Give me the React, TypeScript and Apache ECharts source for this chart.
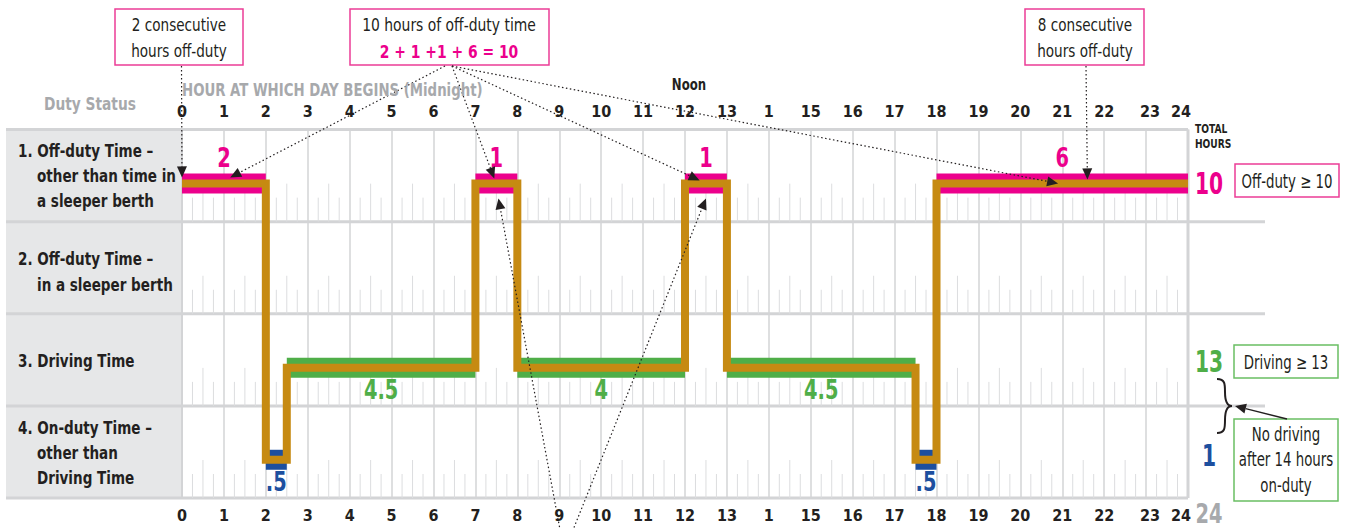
import React, { useEffect, useRef } from "react";
import * as echarts from "echarts";

// ---------- data ----------
const hourTickLabels = ["0", "1", "2", "3", "4", "5", "6", "7", "8", "9", "10", "11", "12", "13", "1", "15", "16", "17", "18", "19", "20", "21", "22", "23", "24"];
const dutyStatusRows = [
  ["1. Off-duty Time –", "other than time in", "a sleeper berth"],
  ["2. Off-duty Time –", "in a sleeper berth"],
  ["3. Driving Time"],
  ["4. On-duty Time –", "other than", "Driving Time"],
];
const segmentStarts = [0, 2, 2.5, 7, 8, 12, 13, 17.5, 18];
const segmentEnds = [2, 2.5, 7, 8, 12, 13, 17.5, 18, 24];
const segmentRows = [0, 3, 2, 0, 2, 0, 2, 3, 0];
const rowColors = ["#ec008c", "#ec008c", "#4fae48", "#1d4f9f"];
const offDutyArrowHours = [1.15, 7.45, 12.35, 20.9];
const bottomArrowHours = [7.55, 12.5];

// ---------- style constants ----------
const F = '"DejaVu Sans Condensed", "Liberation Sans Narrow", sans-serif';
const GOLD = "#c68a12";
const LINE_FRAC = 0.585;
const GRID_GRAY = "#d3d4d6";
const TEXT = "#231f20";

const fmtHours = (v: number) => (v < 1 ? String(v).replace(/^0/, "") : String(v));

function buildOption() {
  const series: any[] = [];
  // quarter-hour ticks
  const ticks: number[][] = [];
  for (let r = 0; r < 4; r++) {
    for (let q = 1; q < 96; q++) {
      if (q % 4 === 0) continue;
      ticks.push([q / 4, r, q % 2 === 0 ? 38 : 24]);
    }
  }
  series.push({
    type: "custom",
    z: 2,
    silent: true,
    encode: { x: 0, y: 1 },
    data: ticks,
    renderItem: (params: any, api: any) => {
      const p = api.coord([api.value(0), api.value(1) + 1]);
      return {
        type: "line",
        shape: { x1: p[0], y1: p[1], x2: p[0], y2: p[1] - api.value(2) },
        style: { stroke: "#dcdddf", lineWidth: 1 },
      };
    },
  });
  // coloured bands
  segmentStarts.forEach((s, i) => {
    const y = segmentRows[i] + LINE_FRAC;
    series.push({
      type: "line",
      z: 3,
      silent: true,
      symbol: "none",
      lineStyle: { width: 20, color: rowColors[segmentRows[i]], cap: "butt", opacity: 1 },
      data: [[s, y], [segmentEnds[i], y]],
    });
  });
  // gold step line
  const gold: number[][] = [];
  segmentStarts.forEach((s, i) => {
    const y = segmentRows[i] + LINE_FRAC;
    gold.push([s, y], [segmentEnds[i], y]);
  });
  series.push({
    type: "line",
    z: 4,
    silent: true,
    symbol: "none",
    lineStyle: { width: 8, color: GOLD, join: "miter", cap: "butt" },
    data: gold,
  });
  // segment duration labels
  series.push({
    type: "custom",
    z: 5,
    silent: true,
    encode: { x: 0, y: 1 },
    data: segmentStarts.map((s, i) => {
      const r = segmentRows[i];
      const y = r === 0 ? r + LINE_FRAC - 0.28 : r + LINE_FRAC + 0.235;
      return [(s + segmentEnds[i]) / 2, y, r];
    }),
    renderItem: (params: any, api: any) => {
      const i = params.dataIndex;
      const p = api.coord([api.value(0), api.value(1)]);
      return {
        type: "text",
        x: p[0],
        y: p[1],
        scaleX: 0.8,
        style: {
          text: fmtHours(segmentEnds[i] - segmentStarts[i]),
          fill: rowColors[api.value(2)],
          font: `bold 27px ${F}`,
          textAlign: "center",
          textVerticalAlign: "middle",
        },
      };
    },
  });

  const axisLabel = (margin: number) => ({
    show: true,
    margin,
    color: TEXT,
    fontFamily: F,
    fontWeight: "bold",
    fontSize: 16,
    formatter: (v: number) => {
      const i = Math.round(v);
      const s = hourTickLabels[i];
      if (i === 23) return `{a|${s}}`;
      if (i === 24) return `{b|${s}}`;
      return s;
    },
    rich: {
      a: { padding: [0, 0, 0, 8], fontFamily: F, fontWeight: "bold", fontSize: 16, color: TEXT },
      b: { padding: [0, 14, 0, 0], fontFamily: F, fontWeight: "bold", fontSize: 16, color: TEXT },
    },
  });

  return {
    animation: false,
    grid: { left: 182, right: 158, top: 129.5, bottom: 31, containLabel: false },
    xAxis: [
      {
        type: "value", position: "top", min: 0, max: 24, interval: 1,
        axisLine: { show: false }, axisTick: { show: false },
        splitLine: { show: true, lineStyle: { color: GRID_GRAY, width: 1.5 } },
        axisLabel: axisLabel(10),
      },
      {
        type: "value", position: "bottom", min: 0, max: 24, interval: 1,
        axisLine: { show: false }, axisTick: { show: false },
        splitLine: { show: false },
        axisLabel: axisLabel(9),
      },
    ],
    yAxis: {
      type: "value", min: 0, max: 4, interval: 1, inverse: true,
      axisLine: { show: false }, axisTick: { show: false }, axisLabel: { show: false },
      splitLine: { show: false },
    },
    series,
  };
}

function arrow(x1: number, y1: number, x2: number, y2: number, dashed: boolean) {
  const dx = x2 - x1, dy = y2 - y1;
  const L = Math.hypot(dx, dy);
  const ux = dx / L, uy = dy / L;
  const len = 11, hw = 5;
  const bx = x2 - ux * len, by = y2 - uy * len;
  return [
    {
      type: "line", z: 20, silent: true,
      shape: { x1, y1, x2: bx, y2: by },
      style: { stroke: TEXT, lineWidth: dashed ? 1.2 : 1.3, lineDash: dashed ? [1.5, 2.5] : null },
    },
    {
      type: "polygon", z: 20, silent: true,
      shape: { points: [[x2, y2], [bx - uy * hw, by + ux * hw], [bx + uy * hw, by - ux * hw]] },
      style: { fill: TEXT },
    },
  ];
}

function txt(text: string, x: number, y: number, o: any = {}) {
  return {
    type: "text", z: 21, silent: true,
    x, y, scaleX: o.sx || 1,
    style: {
      text, x: 0, y: 0,
      fill: o.fill || TEXT,
      font: `${o.weight || "normal"} ${o.size || 17}px ${F}`,
      textAlign: o.align || "left",
      textVerticalAlign: "middle",
    },
  };
}

function box(x: number, y: number, w: number, h: number, stroke: string) {
  return {
    type: "rect", z: 19, silent: true,
    shape: { x, y, width: w, height: h },
    style: { fill: "#fff", stroke, lineWidth: 1.5 },
  };
}

function bez(a: number[], c1: number[], c2: number[], b: number[]) {
  return {
    type: "bezierCurve", z: 20, silent: true,
    shape: { x1: a[0], y1: a[1], cpx1: c1[0], cpy1: c1[1], cpx2: c2[0], cpy2: c2[1], x2: b[0], y2: b[1] },
    style: { stroke: TEXT, lineWidth: 2, fill: null },
  };
}

function buildGraphic(px: (x: number, y: number) => number[]) {
  const g: any[] = [];
  const [xL, yT] = px(0, 0);
  const [xR, yB] = px(24, 4);
  // left panel
  g.push({ type: "rect", z: 1, silent: true, shape: { x: 6, y: yT, width: xL - 6, height: yB - yT }, style: { fill: "#e6e7e8" } });
  // horizontal rules
  for (let r = 0; r <= 4; r++) {
    const y = px(0, r)[1];
    const x2 = r === 0 || r === 4 ? xR : 1265;
    g.push({ type: "line", z: 1, silent: true, shape: { x1: 6, y1: y, x2, y2: y }, style: { stroke: GRID_GRAY, lineWidth: 3 } });
  }
  g.push({ type: "line", z: 1, silent: true, shape: { x1: xL, y1: yT, x2: xL, y2: yB }, style: { stroke: GRID_GRAY, lineWidth: 2 } });
  g.push({ type: "line", z: 1, silent: true, shape: { x1: xR, y1: yT, x2: xR, y2: yB }, style: { stroke: GRID_GRAY, lineWidth: 3 } });

  // row labels
  dutyStatusRows.forEach((lines, r) => {
    const yc = (px(0, r)[1] + px(0, r + 1)[1]) / 2 + 1 + (r === 1 ? 3 : 0);
    const step = r === 1 ? 26 : 25;
    lines.forEach((line, i) => {
      const y = yc + (i - (lines.length - 1) / 2) * step;
      g.push(txt(line, i === 0 ? 18 : 37, y, { weight: "bold", size: 17.5, sx: 0.86 }));
    });
  });

  // headers
  g.push(txt("Duty Status", 90, 104, { weight: "bold", size: 17, fill: "#a7a9ac", align: "center", sx: 0.9 }));
  g.push(txt("HOUR AT WHICH DAY BEGINS (Midnight)", xL, 90, { weight: "bold", size: 17, fill: "#a7a9ac", sx: 0.87 }));
  g.push(txt("Noon", px(12, 0)[0] + 4, 85, { weight: "bold", size: 15, align: "center", sx: 0.87 }));
  g.push(txt("TOTAL", xR + 7, 129, { weight: "bold", size: 13, sx: 0.78 }));
  g.push(txt("HOURS", xR + 7, 144, { weight: "bold", size: 13, sx: 0.78 }));

  // totals
  const totals = [0, 0, 0, 0];
  segmentStarts.forEach((s, i) => (totals[segmentRows[i]] += segmentEnds[i] - s));
  const totalX = xR + 21;
  g.push(txt(String(totals[0]), totalX, px(24, LINE_FRAC)[1], { weight: "bold", size: 30, fill: rowColors[0], align: "center", sx: 0.75 }));
  g.push(txt(String(totals[2]), totalX, px(24, 2 + LINE_FRAC)[1] - 6, { weight: "bold", size: 30, fill: rowColors[2], align: "center", sx: 0.75 }));
  g.push(txt(String(totals[3]), totalX, px(24, 3 + LINE_FRAC)[1] - 5, { weight: "bold", size: 30, fill: rowColors[3], align: "center", sx: 0.75 }));
  g.push(txt(String(totals.reduce((a, b) => a + b, 0)), totalX, 514, { weight: "bold", size: 27, fill: "#a7a9ac", align: "center", sx: 0.8 }));

  // right boxes
  g.push(box(1235, 164, 104, 33, "#ec3d96"));
  g.push(txt("Off-duty ≥ 10", 1287, 181, { size: 19, align: "center", sx: 0.78 }));
  g.push(box(1234, 345, 104, 33, "#6abf63"));
  g.push(txt("Driving ≥ 13", 1286, 362, { size: 19, align: "center", sx: 0.78 }));
  g.push(box(1234, 419, 104, 82, "#6abf63"));
  g.push(txt("No driving", 1286, 434, { size: 19, align: "center", sx: 0.78 }));
  g.push(txt("after 14 hours", 1286, 459, { size: 19, align: "center", sx: 0.78 }));
  g.push(txt("on-duty", 1286, 485, { size: 19, align: "center", sx: 0.78 }));
  // brace
  g.push(bez([1217, 379], [1225, 379], [1225, 384], [1225, 392]));
  g.push(bez([1225, 392], [1225, 402], [1227, 406], [1232, 406]));
  g.push(bez([1232, 406], [1227, 406], [1225, 410], [1225, 420]));
  g.push(bez([1225, 420], [1225, 428], [1225, 433], [1217, 433]));
  g.push(...arrow(1287, 419, 1235, 406, false));

  // top boxes
  g.push(box(115, 9, 128, 56, "#ec3d96"));
  g.push(txt("2 consecutive", 179, 25, { size: 18, align: "center", sx: 0.84 }));
  g.push(txt("hours off-duty", 179, 51, { size: 18, align: "center", sx: 0.84 }));
  g.push(box(350, 9, 199, 56, "#ec3d96"));
  g.push(txt("10 hours of off-duty time", 449, 25, { size: 18, align: "center", sx: 0.86 }));
  g.push(txt("2 + 1 +1 + 6 = 10", 449, 52, { size: 18, weight: "bold", fill: "#ec008c", align: "center", sx: 0.86 }));
  g.push(box(1025, 9, 119, 56, "#ec3d96"));
  g.push(txt("8 consecutive", 1085, 25, { size: 18, align: "center", sx: 0.84 }));
  g.push(txt("hours off-duty", 1085, 51, { size: 18, align: "center", sx: 0.84 }));

  // dotted arrows
  const topStripeY = (x: number) => px(x, LINE_FRAC)[1] - 6;
  g.push(...arrow(181.5, 66, px(0, 0)[0], topStripeY(0), true));
  g.push(...arrow(1086, 66, px(21.6, 0)[0], topStripeY(21.6) + 2, true));
  offDutyArrowHours.forEach((h, i) => {
    const ox = i === 0 ? 445 : 452;
    const yy = topStripeY(h) + [0, 1, 3, 6][i];
    g.push(...arrow(ox, 66, px(h, 0)[0], yy, true));
  });
  bottomArrowHours.forEach((h, i) => {
    const ox = i === 0 ? 561 : 571;
    g.push(...arrow(ox, 535, px(h, 0)[0], px(h, LINE_FRAC)[1] + 15, true));
  });
  return g;
}

export default function App() {
  const ref = useRef<HTMLDivElement>(null);
  useEffect(() => {
    const chart = echarts.init(ref.current!, null, { renderer: "svg" });
    chart.setOption(buildOption() as any);
    const goldIdx = 1 + segmentStarts.length;
    const px = (x: number, y: number) => chart.convertToPixel({ seriesIndex: goldIdx }, [x, y]) as number[];
    chart.setOption({ graphic: buildGraphic(px) } as any);
    return () => chart.dispose();
  }, []);
  return <div ref={ref} style={{ position: "absolute", left: 0, top: 0, width: 1346, height: 529 }} />;
}
